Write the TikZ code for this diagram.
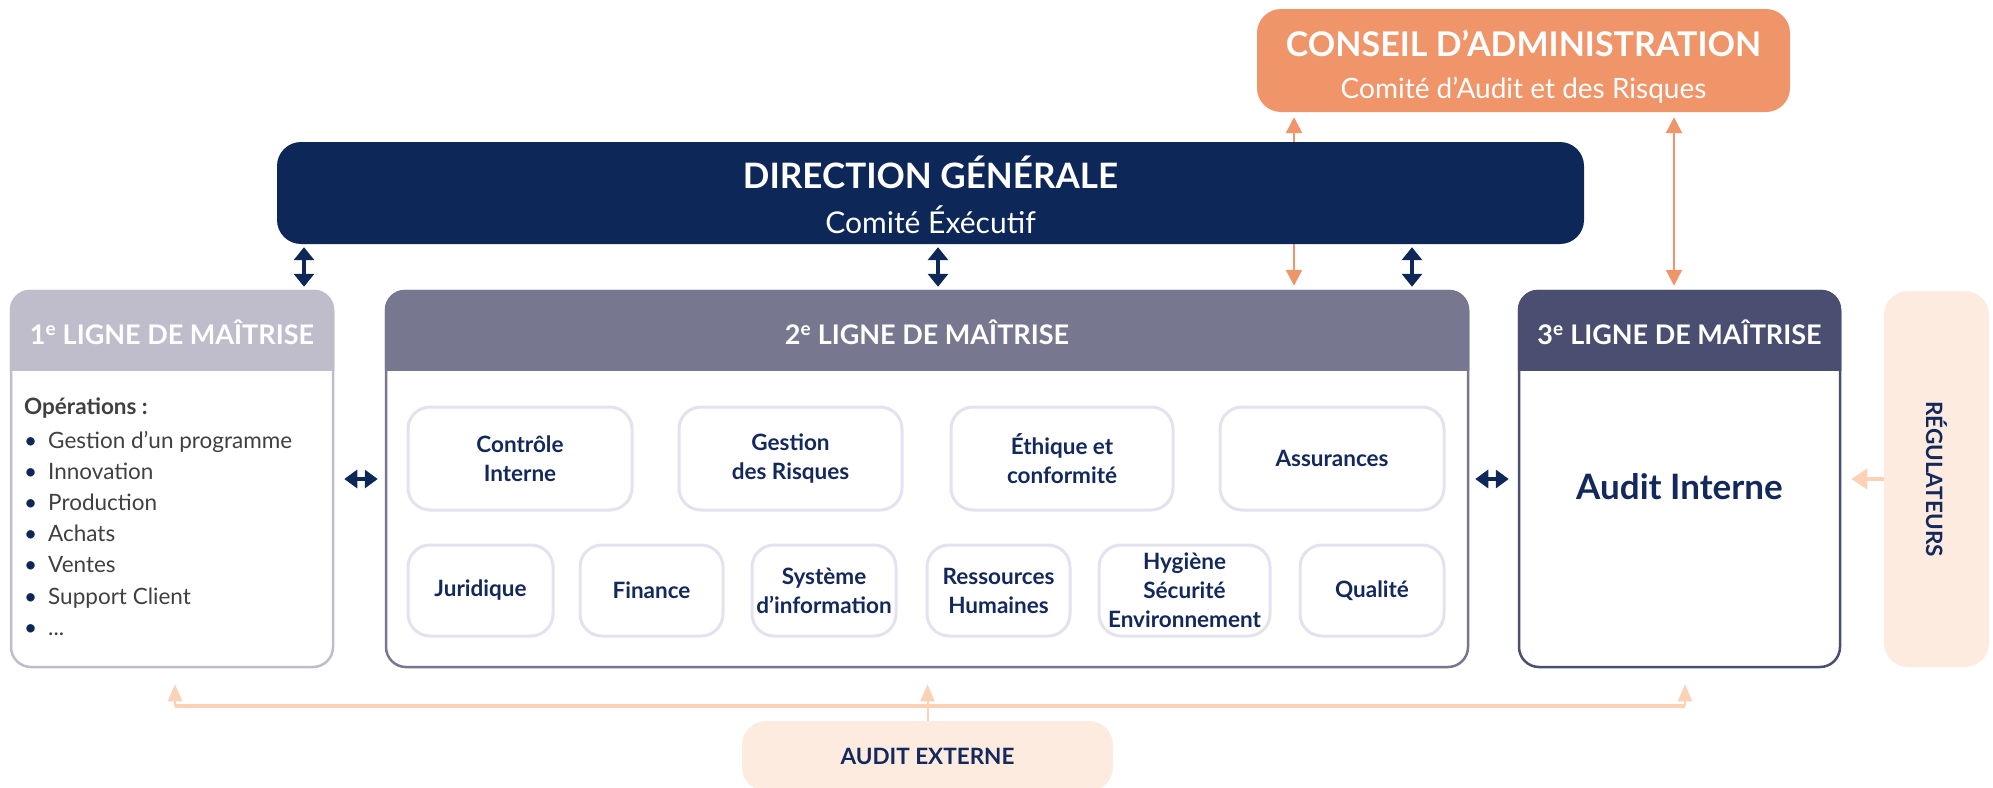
\documentclass[tikz,border=0pt]{standalone}
\usepackage{fontspec}
\setmainfont{Lato}
\usepackage{tikz}
\usetikzlibrary{arrows.meta, positioning, calc}

\definecolor{dgcolor}{HTML}{0E2759}
\definecolor{cacolor}{HTML}{F0956A}
\definecolor{ligneun}{HTML}{BFBDCC}
\definecolor{lignedeux}{HTML}{77778F}
\definecolor{lignetrois}{HTML}{4A4F71}
\definecolor{pechecolor}{HTML}{FDEBE0}
\definecolor{pechearrow}{HTML}{FCD1B6}
\definecolor{postecolor}{HTML}{E3E2EE}
\definecolor{textcolor}{HTML}{13295B}
\definecolor{listcolor}{HTML}{404040}

\tikzset{
  bloc/.style={fill=#1, rounded corners=24pt, inner sep=0pt},
  ligne/.style={draw=#1, line width=2.5pt, fill=white, rounded corners=20pt,
                minimum width=322pt, minimum height=376pt, inner sep=0pt},
  lhead/.style={font=\fontsize{27}{30}\selectfont\bfseries, text=white},
  titre/.style={font=\fontsize{#1}{#1}\selectfont, text=white},
  gtitre/.style={font=\fontsize{#1}{#1}\selectfont\bfseries, text=white},
  poste/.style={draw=postecolor, line width=3pt, fill=white, rounded corners=22pt,
                align=center, inner sep=0pt, text=textcolor,
                font=\fontsize{22.5}{29}\selectfont\bfseries},
  darrow/.style={{Triangle[width=20pt,length=13pt]}-{Triangle[width=20pt,length=13pt]},
                 line width=4pt, draw=dgcolor},
  oarrow/.style={{Triangle[width=16pt,length=16pt]}-{Triangle[width=16pt,length=16pt]},
                 line width=2.5pt, draw=cacolor},
  parrow/.style={-{Triangle[width=14pt,length=17pt]}, line width=2pt, draw=pechearrow},
}

\begin{document}
\begin{tikzpicture}[x=1pt, y=-1pt]
  \clip (0,0) rectangle (1993,787);

  % gouvernance
  \node[bloc=cacolor, minimum width=533pt, minimum height=103pt] (ca) at (1523.5,60.5) {};
  \node[gtitre=34] at ($(ca.center)+(0,-17)$) {CONSEIL D’ADMINISTRATION};
  \node[titre=28] at ($(ca.center)+(0,30)$) {Comité d’Audit et des Risques};

  \node[ligne=ligneun] (l1) at (172,479) {};
  \node[ligne=lignedeux, minimum width=1082pt] (l2) at (927,479) {};
  \node[ligne=lignetrois, minimum width=321pt] (l3) at (1679.5,479) {};

  % fleche CA -> 2e ligne, passe sous la direction
  \coordinate (o1) at (1294,0);
  \coordinate (o2) at (1674,0);
  \draw[oarrow, shorten <=5pt, shorten >=4pt] (ca.south -| o1) -- (l2.north -| o1);
  \draw[oarrow, shorten <=5pt, shorten >=4pt] (ca.south -| o2) -- (l3.north -| o2);

  \node[bloc=dgcolor, minimum width=1307pt, minimum height=102pt] (dg) at (930.5,193) {};
  \node[gtitre=35] at ($(dg.center)+(0,-21)$) {DIRECTION GÉNÉRALE};
  \node[titre=30] at ($(dg.center)+(0,27)$) {Comité Éxécutif};

  % en-tetes des lignes
  \fill[ligneun] ($(l1.north west)+(0,81)$) [rounded corners=20pt] -- (l1.north west)
    -- (l1.north east) [sharp corners] -- ($(l1.north east)+(0,81)$) -- cycle;
  \fill[lignedeux] ($(l2.north west)+(0,81)$) [rounded corners=20pt] -- (l2.north west)
    -- (l2.north east) [sharp corners] -- ($(l2.north east)+(0,81)$) -- cycle;
  \fill[lignetrois] ($(l3.north west)+(0,81)$) [rounded corners=20pt] -- (l3.north west)
    -- (l3.north east) [sharp corners] -- ($(l3.north east)+(0,81)$) -- cycle;
  \node[lhead] at ($(l1.north)+(0,43)$) {1\textsuperscript{e} LIGNE DE MAÎTRISE};
  \node[lhead] at ($(l2.north)+(0,43)$) {2\textsuperscript{e} LIGNE DE MAÎTRISE};
  \node[lhead] at ($(l3.north)+(0,43)$) {3\textsuperscript{e} LIGNE DE MAÎTRISE};

  % 1re ligne
  \node[anchor=north west, align=left, inner sep=0pt, text=listcolor,
        font=\fontsize{22.5}{31.2}\selectfont] (ops) at (24,398)
    {\textbf{Opérations :}\\[2pt]
     \makebox[24pt][l]{\color{dgcolor}\textbullet}Gestion d’un programme\\
     \makebox[24pt][l]{\color{dgcolor}\textbullet}Innovation\\
     \makebox[24pt][l]{\color{dgcolor}\textbullet}Production\\
     \makebox[24pt][l]{\color{dgcolor}\textbullet}Achats\\
     \makebox[24pt][l]{\color{dgcolor}\textbullet}Ventes\\
     \makebox[24pt][l]{\color{dgcolor}\textbullet}Support Client\\
     \makebox[24pt][l]{\color{dgcolor}\textbullet}...};

  % 2e ligne
  \node[poste, minimum width=224pt, minimum height=103pt] (ci) at (520,458.5) {Contrôle\\Interne};
  \node[poste, minimum width=223pt, minimum height=103pt, right=44pt of ci] (gr) {Gestion\\des Risques};
  \node[poste, minimum width=222pt, minimum height=103pt, right=46pt of gr] (ec) {Éthique et\\conformité};
  \node[poste, minimum width=224pt, minimum height=103pt, right=44pt of ec] (as) {Assurances};

  \node[poste, minimum width=145pt, minimum height=91pt] (jur) at (480.5,590.5) {Juridique};
  \node[poste, minimum width=143pt, minimum height=91pt, right=24pt of jur] (fin) {Finance};
  \node[poste, minimum width=144pt, minimum height=91pt, right=26pt of fin] (si) {Système\\d’information};
  \node[poste, minimum width=143pt, minimum height=91pt, right=28pt of si] (rh) {Ressources\\Humaines};
  \node[poste, minimum width=171pt, minimum height=91pt, right=26pt of rh] (hse) {Hygiène\\Sécurité\\Environnement};
  \node[poste, minimum width=144pt, minimum height=91pt, right=27pt of hse] (qa) {Qualité};

  % 3e ligne
  \node[text=textcolor, font=\fontsize{35}{38}\selectfont\bfseries] (ai)
    at ($(l3.center)+(0,8)$) {Audit Interne};

  % acteurs externes
  \node[bloc=pechecolor, minimum width=105pt, minimum height=376pt] (reg) at (1936.5,479) {};
  \node[rotate=-90, text=textcolor, font=\fontsize{22.5}{24}\selectfont\bfseries]
    at (reg.center) {RÉGULATEURS};
  \node[bloc=pechecolor, minimum width=371pt, minimum height=70pt, text=textcolor,
        font=\fontsize{22.5}{24}\selectfont\bfseries] (ext) at (927.5,756) {AUDIT EXTERNE};

  % liaisons
  \coordinate (d1) at (304,0);
  \coordinate (d2) at (938,0);
  \coordinate (d3) at (1412,0);
  \draw[darrow, shorten <=3pt, shorten >=3pt] (dg.south -| d1) -- (l1.north -| d1);
  \draw[darrow, shorten <=3pt, shorten >=3pt] (dg.south -| d2) -- (l2.north -| d2);
  \draw[darrow, shorten <=3pt, shorten >=3pt] (dg.south -| d3) -- (l2.north -| d3);
  \draw[darrow, {Triangle[width=18pt,length=13pt]}-{Triangle[width=18pt,length=13pt]},
        shorten <=10pt, shorten >=7pt] (l1.east) -- (l2.west);
  \draw[darrow, {Triangle[width=18pt,length=13pt]}-{Triangle[width=18pt,length=13pt]},
        shorten <=6pt, shorten >=9pt] (l2.east) -- (l3.west);
  \draw[parrow, line width=4pt, -{Triangle[width=20pt,length=16pt]}, shorten >=10pt]
    (reg.west) -- (l3.east);

  \coordinate (bus) at (927.5,706);
  \coordinate (e1) at (175,706);
  \coordinate (e3) at (1685,706);
  \draw[pechearrow, line width=2pt] (ext.north) -- (bus);
  \draw[pechearrow, line width=3.5pt] (e1) -- (e3);
  \draw[parrow, shorten >=16pt] (e1) -- (l1.south -| e1);
  \draw[parrow, shorten >=16pt] (bus) -- (l2.south -| bus);
  \draw[parrow, shorten >=16pt] (e3) -- (l3.south -| e3);
\end{tikzpicture}
\end{document}
